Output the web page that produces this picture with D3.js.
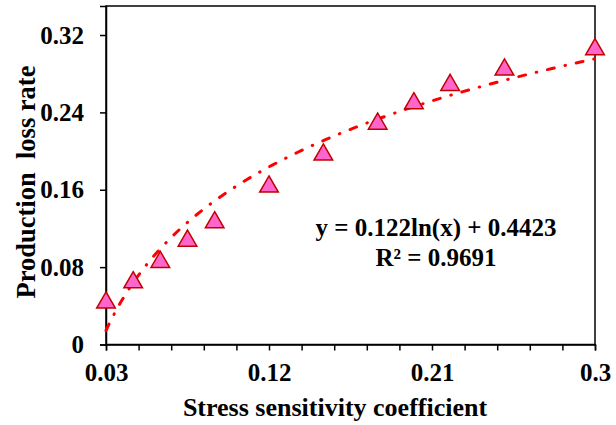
<!DOCTYPE html>
<html>
<head>
<meta charset="utf-8">
<script src="https://cdn.jsdelivr.net/npm/d3@7/dist/d3.min.js"></script>
<style>
  body { margin: 0; background: #fff; }
  text { font-family: "Liberation Serif", "Times New Roman", serif; font-weight: bold; fill: #000; }
</style>
</head>
<body>
<div id="chart"></div>
<script>
// measured points: stress sensitivity coefficient vs production loss rate
const coefficients = [0.03, 0.045, 0.06, 0.075, 0.09, 0.12, 0.15, 0.18, 0.2, 0.22, 0.25, 0.3];
const lossRates = [0.046, 0.067, 0.088, 0.110, 0.129, 0.166, 0.199, 0.231, 0.252, 0.271, 0.287, 0.308];

// logarithmic trend line y = a ln(x) + b
const trendA = 0.122;
const trendB = 0.4423;
const trendLabel = 'y = 0.122ln(x) + 0.4423';
const r2Label = 'R² = 0.9691';

const xTickLabels = [0.03, 0.12, 0.21, 0.3];
const yTickLabels = [0, 0.08, 0.16, 0.24, 0.32];

const width = 616;
const height = 425;
const margin = {top: 6, right: 21, bottom: 80.5, left: 106};
const fontSize = 25;

const svg = d3.select('#chart')
    .append('svg')
    .attr('width', width)
    .attr('height', height);

const x = d3.scaleLinear()
    .domain([0.03, 0.3])
    .range([margin.left, width - margin.right]);
const y = d3.scaleLinear()
    .domain([0, 0.35])
    .range([height - margin.bottom, margin.top]);

// frame (top and right edges)
svg.append('rect')
    .attr('x', x(0.03))
    .attr('y', y(0.35))
    .attr('width', x(0.3) - x(0.03))
    .attr('height', y(0) - y(0.35))
    .attr('fill', 'none')
    .attr('stroke', '#000')
    .attr('stroke-width', 1.5);

// X axis: a tick every 0.018, labels every fifth tick
const xTicks = d3.range(16).map((i) => 0.03 + i * 0.018);
const xAxis = svg.append('g')
    .attr('transform', 'translate(0,' + y(0) + ')')
    .call(d3.axisBottom(x)
        .tickValues(xTicks)
        .tickSize(6)
        .tickPadding(13)
        .tickFormat((d) => {
          const hit = xTickLabels.find((v) => Math.abs(v - d) < 1e-9);
          return hit === undefined ? '' : String(hit);
        }));
xAxis.select('.domain').attr('stroke-width', 1.5);
xAxis.selectAll('line').attr('stroke-width', 1.5);
xAxis.selectAll('text')
    .attr('font-size', fontSize)
    .attr('font-family', '"Liberation Serif", serif')
    .attr('font-weight', 'bold');

// Y axis
const yAxis = svg.append('g')
    .attr('transform', 'translate(' + x(0.03) + ',0)')
    .call(d3.axisLeft(y)
        .tickValues(yTickLabels)
        .tickSize(6)
        .tickPadding(16)
        .tickFormat((d) => String(d)));
yAxis.select('.domain').attr('stroke-width', 1.5);
yAxis.selectAll('line').attr('stroke-width', 1.5);
yAxis.selectAll('text')
    .attr('font-size', fontSize)
    .attr('font-family', '"Liberation Serif", serif')
    .attr('font-weight', 'bold');

// axis titles
svg.append('text')
    .attr('x', 335)
    .attr('y', 416)
    .attr('text-anchor', 'middle')
    .attr('font-size', 26)
    .text('Stress sensitivity coefficient');

svg.append('text')
    .attr('transform', 'translate(35,182) rotate(-90)')
    .attr('text-anchor', 'middle')
    .attr('font-size', 26.5)
    .style('white-space', 'pre')
    .text('Production  loss rate');

// trend line
const trendData = d3.range(0, 101).map((i) => {
  const xv = 0.03 + (0.3 - 0.03) * i / 100;
  return {x: xv, y: trendA * Math.log(xv) + trendB};
});
svg.append('path')
    .datum(trendData)
    .attr('fill', 'none')
    .attr('stroke', '#ff0000')
    .attr('stroke-width', 3)
    .attr('stroke-linecap', 'round')
    .attr('stroke-dasharray', '7,11,0.5,11')
    .attr('d', d3.line()
        .x((d) => x(d.x))
        .y((d) => y(d.y)));

// triangle markers
const tri = d3.symbol().type(d3.symbolTriangle).size(150);
svg.append('g')
    .selectAll('path')
    .data(coefficients.map((c, i) => ({x: c, y: lossRates[i]})))
    .join('path')
    .attr('transform', (d) => 'translate(' + x(d.x) + ',' + (y(d.y) + 2.7) + ')')
    .attr('d', tri)
    .attr('fill', '#ff66cc')
    .attr('stroke', '#c00000')
    .attr('stroke-width', 1.5);

// equation label
svg.append('text')
    .attr('x', 436)
    .attr('y', 236)
    .attr('text-anchor', 'middle')
    .attr('font-size', fontSize)
    .text(trendLabel);
svg.append('text')
    .attr('x', 436)
    .attr('y', 266)
    .attr('text-anchor', 'middle')
    .attr('font-size', fontSize)
    .text(r2Label);
</script>
</body>
</html>
